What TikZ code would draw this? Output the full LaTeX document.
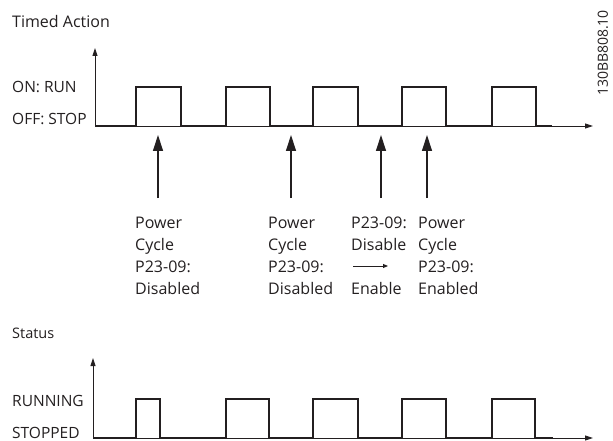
\documentclass[tikz,border=0pt]{standalone}
\usepackage{fontspec}
\setmainfont{Open Sans}
\usetikzlibrary{arrows.meta}
\definecolor{ink}{HTML}{231F20}
\begin{document}
\begin{tikzpicture}[x=1pt,y=-1pt,
  lbl/.style={anchor=base west, inner sep=0pt, font=\fontsize{16}{19}\selectfont, text=ink},
  side/.style={anchor=base west, inner sep=0pt, font=\fontsize{15.5}{19}\selectfont, text=ink},
  axis/.style={draw=ink, line width=0.9pt, -{Triangle[length=8pt,width=5pt]}},
  sig/.style={draw=ink, line width=1.1pt, line join=miter},
  pointer/.style={draw=ink, line width=1.2pt, -{Triangle[length=16pt,width=10pt]}},
  small/.style={draw=ink, line width=0.9pt, -{Triangle[length=5pt,width=4pt]}},
]
\useasboundingbox (0,0) rectangle (613,441);

% ---------- titles and level labels ----------
\node[lbl] (title1) at (12,28) {Timed Action};
\node[side] (on) at (12,93) {ON: RUN};
\node[side] (off) at (12,125) {OFF: STOP};
\node[lbl, font=\fontsize{14.5}{17}\selectfont] (title2) at (12,338) {Status};
\node[side] (run) at (12,406) {RUNNING};
\node[side] (stop) at (12,438) {STOPPED};
\node[rotate=90, inner sep=0pt, text=ink, font=\fontsize{14}{14}\selectfont] (code) at (603,53) {130BB808.10};

% ---------- top chart ----------
\coordinate (o1) at (95,126);
\coordinate (y1) at (95,48);
\coordinate (x1) at (593,126);
\draw[axis] (o1) -- (y1);
\draw[axis] (o1) -- (x1);
\draw[sig] (o1) -- (136,126) -- (136,87) -- (181,87) -- (181,126)
  -- (226,126) -- (226,87) -- (270,87) -- (270,126)
  -- (313,126) -- (313,87) -- (358,87) -- (358,126)
  -- (402,126) -- (402,87) -- (446,87) -- (446,126)
  -- (492,126) -- (492,87) -- (536,87) -- (536,126) -- (552,126);

% ---------- event pointers ----------
\coordinate (p1s) at (158,198); \coordinate (p1e) at (158,135);
\coordinate (p2s) at (291,198); \coordinate (p2e) at (291,135);
\coordinate (p3s) at (381,198); \coordinate (p3e) at (381,135);
\coordinate (p4s) at (427,198); \coordinate (p4e) at (427,135);
\draw[pointer] (p1s) -- (p1e);
\draw[pointer] (p2s) -- (p2e);
\draw[pointer] (p3s) -- (p3e);
\draw[pointer] (p4s) -- (p4e);

% ---------- event labels ----------
\node[lbl] (a1) at (135,228) {Power};
\node[lbl] (a2) at (135,250) {Cycle};
\node[lbl] (a3) at (135,272) {P23-09:};
\node[lbl] (a4) at (135,294) {Disabled};

\node[lbl] (b1) at (268,228) {Power};
\node[lbl] (b2) at (268,250) {Cycle};
\node[lbl] (b3) at (268,272) {P23-09:};
\node[lbl] (b4) at (268,294) {Disabled};

\node[lbl] (c1) at (351,228) {P23-09:};
\node[lbl] (c2) at (351,250) {Disable};
\coordinate (cs) at (353,266);
\coordinate (ce) at (388,266);
\draw[small] (cs) -- (ce);
\node[lbl] (c4) at (351,294) {Enable};

\node[lbl] (d1) at (418,228) {Power};
\node[lbl] (d2) at (418,250) {Cycle};
\node[lbl] (d3) at (418,272) {P23-09:};
\node[lbl] (d4) at (418,294) {Enabled};

% ---------- bottom chart ----------
\coordinate (o2) at (93,438);
\coordinate (y2) at (93,358);
\coordinate (x2) at (593,438);
\draw[axis] (o2) -- (y2);
\draw[axis] (o2) -- (x2);
\draw[sig] (o2) -- (136,438) -- (136,399) -- (160,399) -- (160,438)
  -- (226,438) -- (226,399) -- (269,399) -- (269,438)
  -- (313,438) -- (313,399) -- (358,399) -- (358,438)
  -- (402,438) -- (402,399) -- (446,399) -- (446,438)
  -- (492,438) -- (492,399) -- (535,399) -- (535,438) -- (553,438);
\end{tikzpicture}
\end{document}
